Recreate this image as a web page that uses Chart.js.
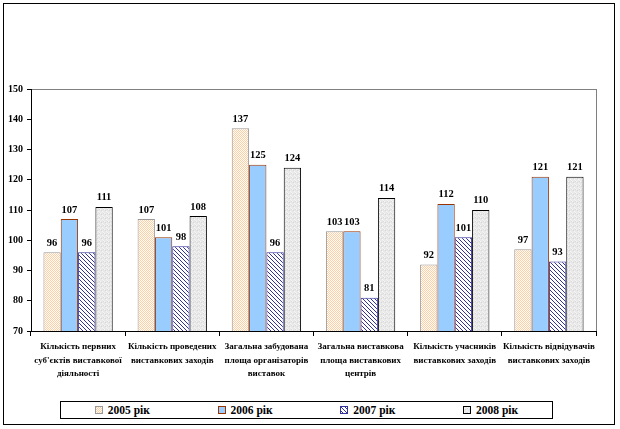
<!DOCTYPE html>
<html>
<head>
<meta charset="utf-8">
<script src="https://cdn.jsdelivr.net/npm/chart.js@4"></script>
<style>
    body { margin: 0; background: #fff; }
    #wrap { position: relative; width: 620px; height: 429px; overflow: hidden; }
    #frame { position: absolute; left: 3px; top: 3px; width: 610px; height: 420px; border: 1px solid #000; }
    #chart { position: absolute; left: 0; top: 0; }
    #legend {
        position: absolute; left: 60px; top: 401px; width: 491px; height: 16px;
        border: 1px solid #000; display: flex; justify-content: space-around; align-items: center;
        font: bold 11.5px "Liberation Serif", "Times New Roman", serif;
    }
    #legend span.item { display: flex; align-items: center; }
    #legend span.box { display: inline-block; width: 6px; height: 6px; margin-right: 5px; }
</style>
</head>
<body>
<div id="wrap">
    <div id="frame"></div>
    <canvas id="chart" width="620" height="400"></canvas>
    <div id="legend"></div>
</div>
<script>
// Дані діаграми
const categories = [
    ["Кількість первних", "суб'єктів виставкової", "діяльності"],
    ["Кількість проведених", "виставкових заходів"],
    ["Загальна забудована", "площа організаторів", "виставок"],
    ["Загальна виставкова", "площа виставкових", "центрів"],
    ["Кількість учасників", "виставкових заходів"],
    ["Кількість відвідувачів", "виставкових заходів"]
];
const years = ["2005 рік", "2006 рік", "2007 рік", "2008 рік"];
const values2005 = [96, 107, 137, 103, 92, 97];
const values2006 = [107, 101, 125, 103, 112, 121];
const values2007 = [96, 98, 96, 81, 101, 93];
const values2008 = [111, 108, 124, 114, 110, 121];
const yTicks = [70, 80, 90, 100, 110, 120, 130, 140, 150];

const FONT = '"Liberation Serif", "Times New Roman", serif';

// Текстури стовпців
function makeTile(size, draw) {
    const c = document.createElement("canvas");
    c.width = c.height = size;
    draw(c.getContext("2d"));
    return c;
}

const tilePeach = makeTile(2, (g) => {
    g.fillStyle = "#fff";
    g.fillRect(0, 0, 2, 2);
    g.fillStyle = "#FFCDA0";
    g.fillRect(0, 0, 1, 1);
    g.fillRect(1, 1, 1, 1);
});
const tileBlue = makeTile(2, (g) => {
    g.fillStyle = "#99CCFF";
    g.fillRect(0, 0, 2, 2);
});
const tileHatch = makeTile(4, (g) => {
    g.fillStyle = "#fff";
    g.fillRect(0, 0, 4, 4);
    g.fillStyle = "#333399";
    for (let i = 0; i < 4; i++) g.fillRect(i, i, 1, 1);
});
const tileGray = makeTile(4, (g) => {
    g.fillStyle = "#E8E8E8";
    g.fillRect(0, 0, 4, 4);
    g.fillStyle = "#F5F5F5";
    [[0, 1], [2, 3], [3, 0]].forEach(([x, y]) => g.fillRect(x, y, 1, 1));
    g.fillStyle = "#D8D8D8";
    [[1, 2], [3, 1]].forEach(([x, y]) => g.fillRect(x, y, 1, 1));
});

const ctx = document.getElementById("chart").getContext("2d");
const fills = [tilePeach, tileBlue, tileHatch, tileGray].map((t) => ctx.createPattern(t, "repeat"));
const borders = ["#999999", "#993300", "#333399", "#000000"];
const tiles = [tilePeach, tileBlue, tileHatch, tileGray];
const series = [values2005, values2006, values2007, values2008];

// Підписи значень над стовпцями
const valueLabels = {
    id: "valueLabels",
    afterDatasetsDraw(chart) {
        const c = chart.ctx;
        c.save();
        c.font = "bold 10.5px " + FONT;
        c.fillStyle = "#000";
        c.textAlign = "center";
        c.textBaseline = "bottom";
        chart.data.datasets.forEach((ds, i) => {
            chart.getDatasetMeta(i).data.forEach((bar, j) => {
                c.fillText(String(ds.data[j]), bar.x, bar.y - 4);
            });
        });
        c.restore();
    }
};

// Рамка області побудови (права сторона)
const plotFrame = {
    id: "plotFrame",
    beforeDatasetsDraw(chart) {
        const a = chart.chartArea;
        const c = chart.ctx;
        c.save();
        c.strokeStyle = "#808080";
        c.lineWidth = 1;
        c.beginPath();
        c.moveTo(Math.round(a.right) + 0.5, a.top);
        c.lineTo(Math.round(a.right) + 0.5, a.bottom);
        c.stroke();
        c.restore();
    }
};

new Chart(ctx, {
    type: "bar",
    data: {
        labels: categories,
        datasets: years.map((y, i) => ({
            label: y,
            data: series[i],
            backgroundColor: fills[i],
            borderColor: borders[i],
            borderWidth: 1,
            categoryPercentage: 0.736,
            barPercentage: 1
        }))
    },
    options: {
        responsive: false,
        animation: false,
        layout: { padding: { left: 0, right: 24, top: 89, bottom: 0 } },
        plugins: {
            legend: { display: false },
            tooltip: { enabled: false }
        },
        scales: {
            x: {
                grid: { drawOnChartArea: false, color: "#000", tickLength: 5 },
                border: { color: "#000" },
                ticks: {
                    color: "#000",
                    font: { family: FONT, size: 9, weight: "bold", lineHeight: 1.5 },
                    padding: 4,
                    maxRotation: 0,
                    autoSkip: false
                },
                afterFit: (s) => { s.height = 69; }
            },
            y: {
                min: 70,
                max: 150,
                afterBuildTicks: (s) => { s.ticks = yTicks.map((v) => ({ value: v })); },
                grid: {
                    color: (c) => (c.tick && c.tick.value === 150 ? "#808080" : "rgba(0,0,0,0)"),
                    tickColor: "#000",
                    tickLength: 4
                },
                border: { color: "#000" },
                ticks: {
                    color: "#000",
                    font: { family: FONT, size: 10, weight: "bold" },
                    padding: 4
                },
                afterFit: (s) => { s.width = 31; }
            }
        }
    },
    plugins: [valueLabels, plotFrame]
});

// Легенда
const legend = document.getElementById("legend");
years.forEach((y, i) => {
    const item = document.createElement("span");
    item.className = "item";
    const box = document.createElement("span");
    box.className = "box";
    box.style.border = "1px solid " + borders[i];
    box.style.backgroundImage = "url(" + tiles[i].toDataURL() + ")";
    item.appendChild(box);
    item.appendChild(document.createTextNode(y));
    legend.appendChild(item);
});
</script>
</body>
</html>
